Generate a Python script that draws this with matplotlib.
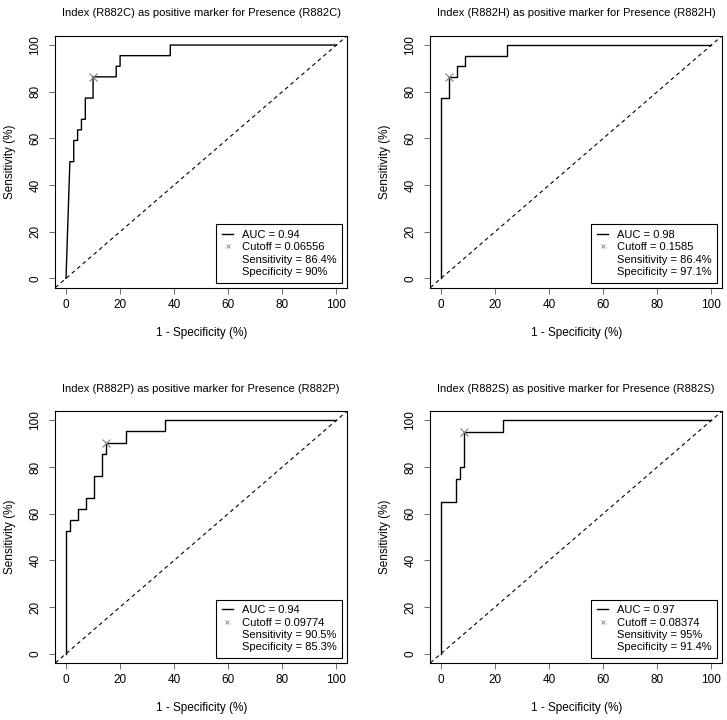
import matplotlib
matplotlib.use("Agg")
import matplotlib.pyplot as plt
from matplotlib.lines import Line2D

plt.rcParams['font.family'] = ['Liberation Sans', 'DejaVu Sans']
plt.rcParams['font.size'] = 8

# ======= ROC curve vertices (1 - specificity %, sensitivity %) =======
titles = [
    "Index (R882C) as positive marker for Presence (R882C)",
    "Index (R882H) as positive marker for Presence (R882H)",
    "Index (R882P) as positive marker for Presence (R882P)",
    "Index (R882S) as positive marker for Presence (R882S)",
]

fpr_c = [0, 1.43, 2.86, 2.86, 4.29, 4.29, 5.71, 5.71, 7.14, 7.14, 10, 10,
         18.57, 18.57, 20, 20, 38.57, 38.57, 100]
tpr_c = [0, 50, 50, 59.09, 59.09, 63.64, 63.64, 68.18, 68.18, 77.27, 77.27, 86.36,
         86.36, 90.91, 90.91, 95.45, 95.45, 100, 100]

fpr_h = [0, 0, 2.9, 2.9, 5.9, 5.9, 8.8, 8.8, 24.5, 24.5, 100]
tpr_h = [0, 77.27, 77.27, 86.36, 86.36, 90.91, 90.91, 95.45, 95.45, 100, 100]

fpr_p = [0, 0, 1.47, 1.47, 4.41, 4.41, 7.35, 7.35, 10.29, 10.29, 13.24, 13.24,
         14.71, 14.71, 22.06, 22.06, 36.76, 36.76, 100]
tpr_p = [0, 52.38, 52.38, 57.14, 57.14, 61.9, 61.9, 66.67, 66.67, 76.19, 76.19, 85.71,
         85.71, 90.48, 90.48, 95.24, 95.24, 100, 100]

fpr_s = [0, 0, 5.71, 5.71, 7.14, 7.14, 8.57, 8.57, 22.86, 22.86, 100]
tpr_s = [0, 65, 65, 75, 75, 80, 80, 95, 95, 100, 100]

auc = [0.94, 0.98, 0.94, 0.97]
cutoff = ["0.06556", "0.1585", "0.09774", "0.08374"]
sens = [86.4, 86.4, 90.5, 95]
spec = [90, 97.1, 85.3, 91.4]
# =====================================================================

curves = [(fpr_c, tpr_c), (fpr_h, tpr_h), (fpr_p, tpr_p), (fpr_s, tpr_s)]

fig = plt.figure(figsize=(7.27, 7.2), dpi=100)
W, H = 727, 720
lefts = [55.2, 430.2]
tops = [35.7, 411.0]
aw, ah = 292.0, 252.0

for i in range(4):
    col, row = i % 2, i // 2
    ax = fig.add_axes([lefts[col] / W, 1 - (tops[row] + ah) / H, aw / W, ah / H])
    fpr, tpr = curves[i]
    ax.plot([-10, 110], [-10, 110], color="black", lw=0.8, dashes=(3.5, 3))
    ax.plot(fpr, tpr, color="black", lw=1.0)
    ax.plot(100 - spec[i], sens[i], marker="x", color="gray", ms=6, mew=0.8, ls="none")

    ax.set_xlim(-4, 104)
    ax.set_ylim(-4, 104)
    ax.set_xticks([0, 20, 40, 60, 80, 100])
    ax.set_yticks([0, 20, 40, 60, 80, 100])
    ax.tick_params(length=4, width=0.6, color="#555555", labelsize=8.5)
    ax.tick_params(axis="x", pad=4)
    ax.tick_params(axis="y", pad=6)
    for lab in ax.get_yticklabels():
        lab.set_rotation(90)
        lab.set_va("center")
    for sp in ax.spines.values():
        sp.set_linewidth(0.8)

    ax.set_xlabel("1 - Specificity (%)", va="center", fontsize=8.5)
    ax.xaxis.set_label_coords(0.5, -45.5 / ah)
    ax.set_ylabel("Sensitivity (%)", va="center", fontsize=8.5)
    ax.yaxis.set_label_coords(-45.5 / aw, 0.5)
    ax.set_title(titles[i], y=1 + 22.5 / ah, va="center", fontsize=8, pad=0)

    handles = [
        Line2D([], [], color="black", lw=1.0),
        Line2D([], [], color="gray", marker="x", ls="none", ms=3.5, mew=0.6),
        Line2D([], [], color="none"),
        Line2D([], [], color="none"),
    ]
    labels = [
        "AUC = %.2f" % auc[i],
        "Cutoff = %s" % cutoff[i],
        "Sensitivity = %g%%" % sens[i],
        "Specificity = %g%%" % spec[i],
    ]
    leg = ax.legend(handles, labels, loc="lower right", frameon=True, fancybox=False,
                    edgecolor="black", framealpha=1, borderpad=0.5, labelspacing=0.22,
                    handlelength=1.0, handletextpad=0.8, borderaxespad=0.45)
    leg.get_frame().set_linewidth(0.8)

fig.savefig("out.png", dpi=100)
